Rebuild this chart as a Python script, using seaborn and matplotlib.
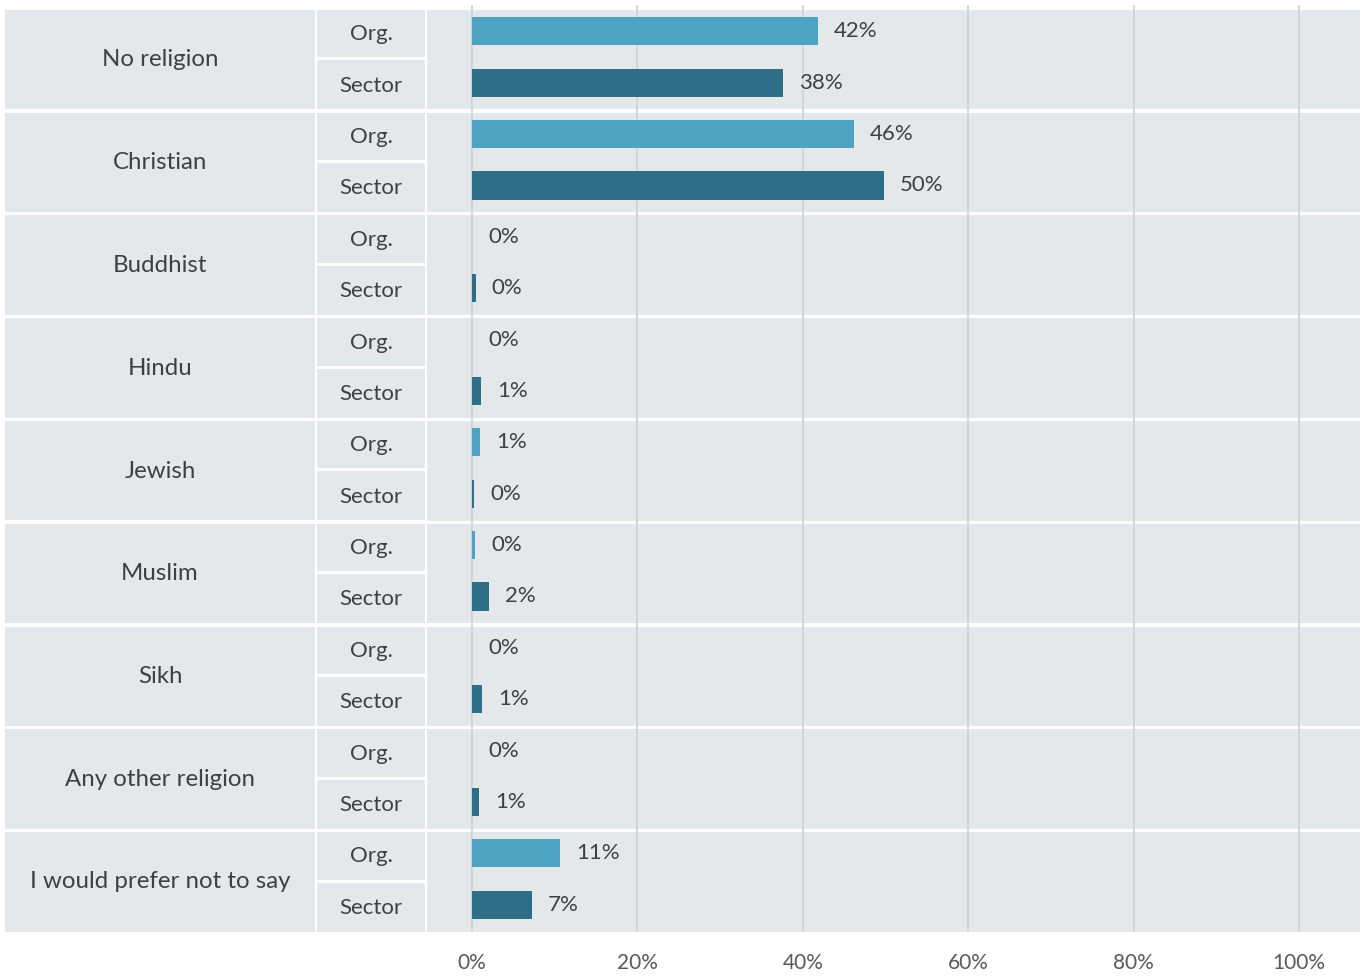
import matplotlib
matplotlib.use("Agg")
import matplotlib.pyplot as plt
import seaborn as sns
import pandas as pd

categories = ["No religion", "Christian", "Buddhist", "Hindu", "Jewish",
              "Muslim", "Sikh", "Any other religion", "I would prefer not to say"]
groups = ["Org.", "Sector"]
org_values = [41.8, 46.2, 0.0, 0.0, 1.0, 0.4, 0.0, 0.0, 10.7]
sector_values = [37.6, 49.8, 0.45, 1.1, 0.3, 2.1, 1.2, 0.9, 7.2]
x_ticks = [0, 20, 40, 60, 80, 100]
x_tick_labels = ["0%", "20%", "40%", "60%", "80%", "100%"]

df = pd.DataFrame({
    "category": categories * 2,
    "group": ["Org."] * len(categories) + ["Sector"] * len(categories),
    "value": org_values + sector_values,
})

sns.set_theme(style="white")
plt.rcParams["font.family"] = ["Lato", "DejaVu Sans"]

W, H = 1364, 976
fig = plt.figure(figsize=(W / 100, H / 100), dpi=100)

BG = "#e4e8eb"
GRID = "#d3d6d9"
TXT = "#404040"
ORG_C = "#4ea3c3"
SEC_C = "#2e6e87"

top_px, bot_px = 5, 932
n = len(categories)
unit = 102.75
c0 = 57.0  # pixel centre of first band's data
ylim_top = (top_px - c0) / unit
ylim_bot = (bot_px - c0) / unit


def p2d(px):
    return (px - c0) / unit


def fig_rect(x0, x1):
    return [x0 / W, 1 - bot_px / H, (x1 - x0) / W, (bot_px - top_px) / H]


band_tops = [10 + unit * i for i in range(n)]
band_h = 99.5
split_a, split_b = 47.5, 50.5
txt_off = 3 / unit

# main bar axes
ax = fig.add_axes(fig_rect(427, 1360))
ax.set_facecolor("white")
for bt in band_tops:
    ax.axhspan(p2d(bt), p2d(bt + band_h), color=BG, zorder=0, lw=0)

sns.barplot(data=df, x="value", y="category", hue="group", order=categories,
            hue_order=groups, palette=[ORG_C, SEC_C], orient="h", width=1.0,
            gap=0.45, legend=False, linewidth=0, saturation=1, ax=ax, zorder=2)

px_per = (1299 - 472) / 100
ax.set_xlim(-(472 - 427) / px_per, (1360 - 472) / px_per)
ax.set_ylim(ylim_bot, ylim_top)
ax.set_xticks(x_ticks)
ax.set_xticklabels(x_tick_labels, color="#595959", fontsize=15)
ax.tick_params(axis="x", length=0, pad=15)
ax.set_yticks([])
ax.set_xlabel("")
ax.set_ylabel("")
for x in x_ticks:
    ax.axvline(x, color=GRID, lw=1.5, zorder=1)
for s in ax.spines.values():
    s.set_visible(False)

for cont in ax.containers:
    ax.bar_label(cont, labels=[f"{v:.0f}%" for v in cont.datavalues],
                 padding=11.5, color=TXT, fontsize=16)

# label axes
axl = fig.add_axes(fig_rect(5, 425))
axl.set_xlim(5, 425)
axl.set_ylim(ylim_bot, ylim_top)
axl.axis("off")
for i, cat in enumerate(categories):
    bt = band_tops[i]
    axl.fill_between([5, 315], p2d(bt), p2d(bt + band_h), color=BG, lw=0)
    axl.fill_between([317, 425], p2d(bt), p2d(bt + split_a), color=BG, lw=0)
    axl.fill_between([317, 425], p2d(bt + split_b), p2d(bt + band_h), color=BG, lw=0)
    axl.text(160, i + txt_off, cat, ha="center", va="center", fontsize=17.3, color=TXT)
    axl.text(371, i - 0.25 + txt_off, groups[0], ha="center", va="center", fontsize=16, color=TXT)
    axl.text(371, i + 0.25 + txt_off, groups[1], ha="center", va="center", fontsize=16, color=TXT)

fig.savefig("out.png", dpi=100, facecolor="white")
